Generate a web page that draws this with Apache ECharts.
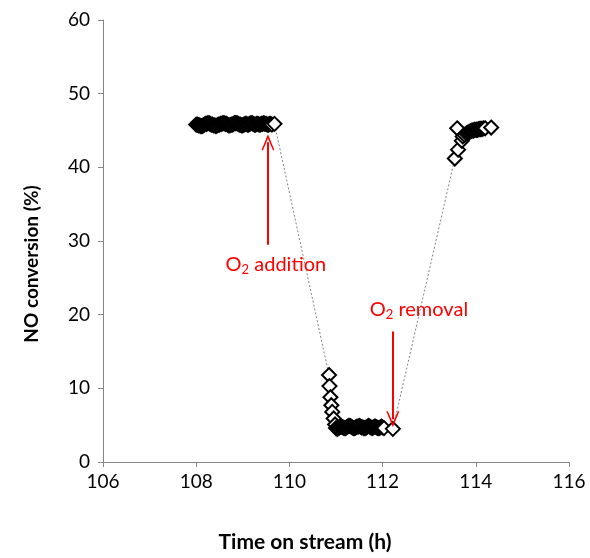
<!DOCTYPE html>
<html>
<head>
<meta charset="utf-8">
<script src="https://cdn.jsdelivr.net/npm/echarts@6/dist/echarts.min.js"></script>
<style>
  html, body { margin: 0; padding: 0; background: #fff; }
  #chart { width: 590px; height: 558px; }
</style>
</head>
<body>
<div id="chart"></div>
<script>
// time on stream (h) and NO conversion (%), without O2
const timeOn = [
  108.000, 108.025, 108.050, 108.075, 108.100, 108.125, 108.150, 108.175, 108.200, 108.225,
  108.250, 108.275, 108.300, 108.325, 108.350, 108.375, 108.400, 108.425, 108.450, 108.475,
  108.500, 108.525, 108.550, 108.575, 108.600, 108.625, 108.650, 108.675, 108.700, 108.725,
  108.750, 108.775, 108.800, 108.825, 108.850, 108.875, 108.900, 108.925, 108.950, 108.975,
  109.000, 109.025, 109.050, 109.075, 109.100, 109.125, 109.150, 109.175, 109.200, 109.225,
  109.250, 109.275, 109.300, 109.325, 109.350, 109.375, 109.400, 109.425, 109.450, 109.475,
  109.500, 109.525, 109.550, 109.575, 109.600, 109.625, 109.680];
const convOn = [
  45.8, 45.8, 45.7, 45.7, 45.6, 45.6, 45.7, 45.8, 45.9, 45.9,
  46.0, 46.0, 45.9, 45.8, 45.8, 45.7, 45.7, 45.6, 45.7, 45.8,
  45.8, 45.9, 45.9, 46.0, 46.0, 45.9, 45.9, 45.8, 45.7, 45.7,
  45.8, 45.8, 45.9, 46.0, 46.0, 46.0, 45.9, 45.8, 45.8, 45.7,
  45.7, 45.8, 45.9, 45.9, 45.8, 45.8, 45.9, 46.0, 46.0, 45.9,
  45.8, 45.8, 45.9, 45.9, 45.8, 45.8, 45.9, 45.9, 46.0, 45.9,
  45.9, 45.8, 45.8, 45.9, 45.9, 45.8, 45.9];

// with O2
const timeO2 = [
  110.850, 110.860, 110.880, 110.900, 110.920, 110.950, 110.980, 111.000, 111.025, 111.050,
  111.075, 111.100, 111.125, 111.150, 111.175, 111.200, 111.225, 111.250, 111.275, 111.300,
  111.325, 111.350, 111.375, 111.400, 111.425, 111.450, 111.475, 111.500, 111.525, 111.550,
  111.575, 111.600, 111.625, 111.650, 111.675, 111.700, 111.725, 111.750, 111.775, 111.800,
  111.825, 111.850, 111.875, 111.900, 111.925, 111.950, 111.975, 112.000, 112.030, 112.220];
const convO2 = [
  11.8, 10.3, 8.8, 7.7, 6.8, 5.9, 5.1, 4.6, 4.5, 4.6,
  4.7, 4.8, 4.8, 4.7, 4.6, 4.6, 4.7, 4.8, 4.9, 4.9,
  4.8, 4.7, 4.6, 4.6, 4.7, 4.8, 4.8, 4.9, 4.8, 4.7,
  4.7, 4.6, 4.6, 4.7, 4.8, 4.9, 4.8, 4.7, 4.6, 4.7,
  4.8, 4.8, 4.7, 4.6, 4.6, 4.7, 4.8, 4.7, 4.6, 4.5];

// O2 removed again
const timeOff = [113.55, 113.60, 113.62, 113.70, 113.72, 113.76, 113.80, 113.83, 113.86, 113.89,
  113.92, 113.95, 113.98, 114.01, 114.04, 114.07, 114.10, 114.13, 114.16, 114.20, 114.33];
const convOff = [41.2, 45.3, 42.4, 43.6, 44.2, 44.4, 44.6, 44.7, 44.8, 44.9,
  45.0, 45.0, 45.1, 45.1, 45.1, 45.2, 45.2, 45.2, 45.3, 45.3, 45.4];

// annotation arrows: [x, yFrom, yTo], and label positions
const arrowAdd = [109.54, 29.5, 43.4];
const arrowRemove = [112.22, 17.7, 5.8];
const labelAdd = [109.71, 26.8];
const labelRemove = [112.78, 20.7];

const times = timeOn.concat(timeO2, timeOff);
const convs = convOn.concat(convO2, convOff);
const points = times.map((t, i) => [t, convs[i]]);

const font = 'Lato, "Open Sans", sans-serif';
const red = '#ff0000';
const openArrow = 'path://M0,12 L6,0 L12,12 L10.6,12 L6,3.2 L1.4,12 Z';

const chart = echarts.init(document.getElementById('chart'));
chart.setOption({
  animation: false,
  grid: { left: 103, right: 21, top: 20, bottom: 95 },
  xAxis: {
    type: 'value', min: 106, max: 116, interval: 2,
    name: 'Time on stream (h)', nameLocation: 'middle', nameGap: 70,
    nameTextStyle: { fontFamily: font, fontSize: 21, fontWeight: 'bold', color: '#000', padding: [0, 62, 0, 0] },
    axisLine: { show: true, lineStyle: { color: '#868686', width: 1 } },
    axisTick: { show: true, length: 5, lineStyle: { color: '#868686' } },
    axisLabel: { fontFamily: font, fontSize: 19, color: '#000', margin: 10 },
    splitLine: { show: false }
  },
  yAxis: {
    type: 'value', min: 0, max: 60, interval: 10,
    name: 'NO conversion (%)', nameLocation: 'middle', nameGap: 62,
    nameTextStyle: { fontFamily: font, fontSize: 19, fontWeight: 'bold', color: '#000', padding: [0, 46, 0, 0] },
    axisLine: { show: true, lineStyle: { color: '#868686', width: 1 } },
    axisTick: { show: true, length: 5, lineStyle: { color: '#868686' } },
    axisLabel: { fontFamily: font, fontSize: 19, color: '#000', margin: 13 },
    splitLine: { show: false }
  },
  series: [{
    type: 'line',
    data: points,
    symbol: 'diamond',
    symbolSize: 14,
    showAllSymbol: true,
    lineStyle: { color: '#808080', width: 1, type: [2, 2] },
    itemStyle: { color: '#fff', borderColor: '#000', borderWidth: 2 },
    markLine: {
      silent: true,
      symbol: ['none', openArrow],
      symbolSize: [13, 16],
      lineStyle: { color: red, width: 2, type: 'solid' },
      label: { show: false },
      data: [
        [{ coord: [arrowAdd[0], arrowAdd[1]] }, { coord: [arrowAdd[0], arrowAdd[2]] }],
        [{ coord: [arrowRemove[0], arrowRemove[1]] }, { coord: [arrowRemove[0], arrowRemove[2]] }]
      ]
    },
    markPoint: {
      silent: true,
      symbol: 'circle',
      symbolSize: 0,
      label: {
        show: true,
        position: 'inside',
        color: red,
        fontFamily: font,
        fontSize: 20,
        rich: {
          t: { fontFamily: font, fontSize: 20, color: red },
          s: { fontFamily: font, fontSize: 13, color: red, padding: [10, 0, 0, 0] }
        }
      },
      data: [
        { coord: labelAdd, label: { formatter: '{t|O}{s|2}{t| addition}' } },
        { coord: labelRemove, label: { formatter: '{t|O}{s|2}{t| removal}' } }
      ]
    }
  }]
});
</script>
</body>
</html>
